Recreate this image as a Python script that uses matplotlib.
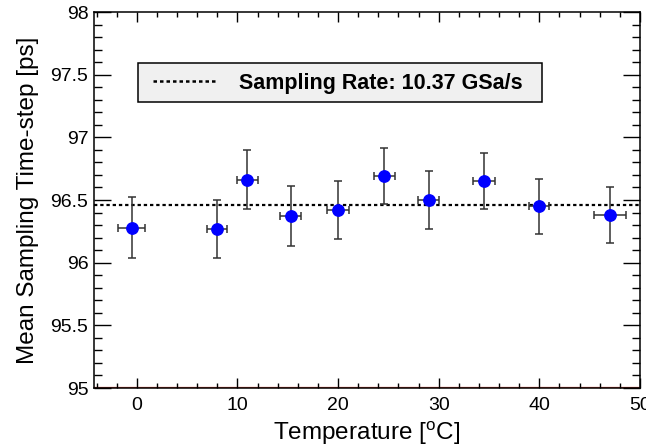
import matplotlib
matplotlib.use("Agg")
import matplotlib.pyplot as plt
from matplotlib.patches import Rectangle
from matplotlib.ticker import MultipleLocator

# Data
temperature = [-0.5, 8.0, 11.0, 15.3, 20.0, 24.6, 29.0, 34.5, 40.0, 47.0]
temp_err = [1.33, 1.0, 1.05, 1.06, 1.06, 1.05, 1.05, 1.05, 1.0, 1.57]
mean_step = [96.28, 96.27, 96.66, 96.37, 96.42, 96.69, 96.50, 96.65, 96.45, 96.38]
step_err = [0.24, 0.23, 0.235, 0.24, 0.23, 0.225, 0.23, 0.225, 0.22, 0.22]
fit_value = 96.46
legend_label = "Sampling Rate: 10.37 GSa/s"

plt.rcParams['font.family'] = ['Liberation Sans', 'DejaVu Sans']

fig = plt.figure(figsize=(6.46, 4.48), dpi=100)
W, H = 646, 448
L, R, T, B = 94, 640, 12, 388
ax = fig.add_axes([L / W, 1 - B / H, (R - L) / W, (B - T) / H])

ax.set_xlim(-4.25, 50)
ax.set_ylim(95, 98)

ax.axhline(fit_value, color='black', lw=1.6, linestyle=(0, (1.5, 1.3)), zorder=2)
ax.axhline(95.006, color='#dd4a3a', lw=0.9, zorder=1)

ax.errorbar(temperature, mean_step, xerr=temp_err, yerr=step_err, fmt='o',
            color='#0000ff', markersize=8.2, ecolor='#333333', elinewidth=1.1,
            capsize=2.8, capthick=1.1, zorder=3)

ax.xaxis.set_major_locator(MultipleLocator(10))
ax.xaxis.set_minor_locator(MultipleLocator(2))
ax.yaxis.set_major_locator(MultipleLocator(0.5))
ax.yaxis.set_minor_locator(MultipleLocator(0.1))
ax.set_yticks([95, 95.5, 96, 96.5, 97, 97.5, 98])
ax.set_yticklabels(['95', '95.5', '96', '96.5', '97', '97.5', '98'])

ax.tick_params(axis='x', which='major', direction='in', length=7.5, width=1,
               top=True, labelsize=14, pad=6.5)
ax.tick_params(axis='x', which='minor', direction='in', length=3.6, width=1, top=True)
ax.tick_params(axis='y', which='major', direction='in', length=12, width=1,
               right=True, labelsize=14, pad=4)
ax.tick_params(axis='y', which='minor', direction='in', length=6, width=1, right=True)
for s in ax.spines.values():
    s.set_linewidth(1.1)

ax.set_xlabel('Temperature [$\\mathregular{^{o}}$C]', fontsize=17.5, labelpad=4)
ax.set_ylabel('Mean Sampling Time-step [ps]', fontsize=17.5, labelpad=8)

# Legend box
ax.add_patch(Rectangle((0.081, 0.7598), 0.740, 0.1038, transform=ax.transAxes,
                       facecolor='#f0f0f0', edgecolor='black', lw=1.1, zorder=4))
handle, = ax.plot([], [], color='black', lw=1.8, linestyle=(0, (1.4, 1.2)))
leg = ax.legend([handle], [legend_label], loc='center left',
                bbox_to_anchor=(0.1086, 0.811), frameon=False, borderpad=0,
                borderaxespad=0, handlelength=2.93, handletextpad=1.04,
                prop={'size': 15.5, 'weight': 'bold'})
leg.set_zorder(5)

fig.savefig('out.png', dpi=100)
